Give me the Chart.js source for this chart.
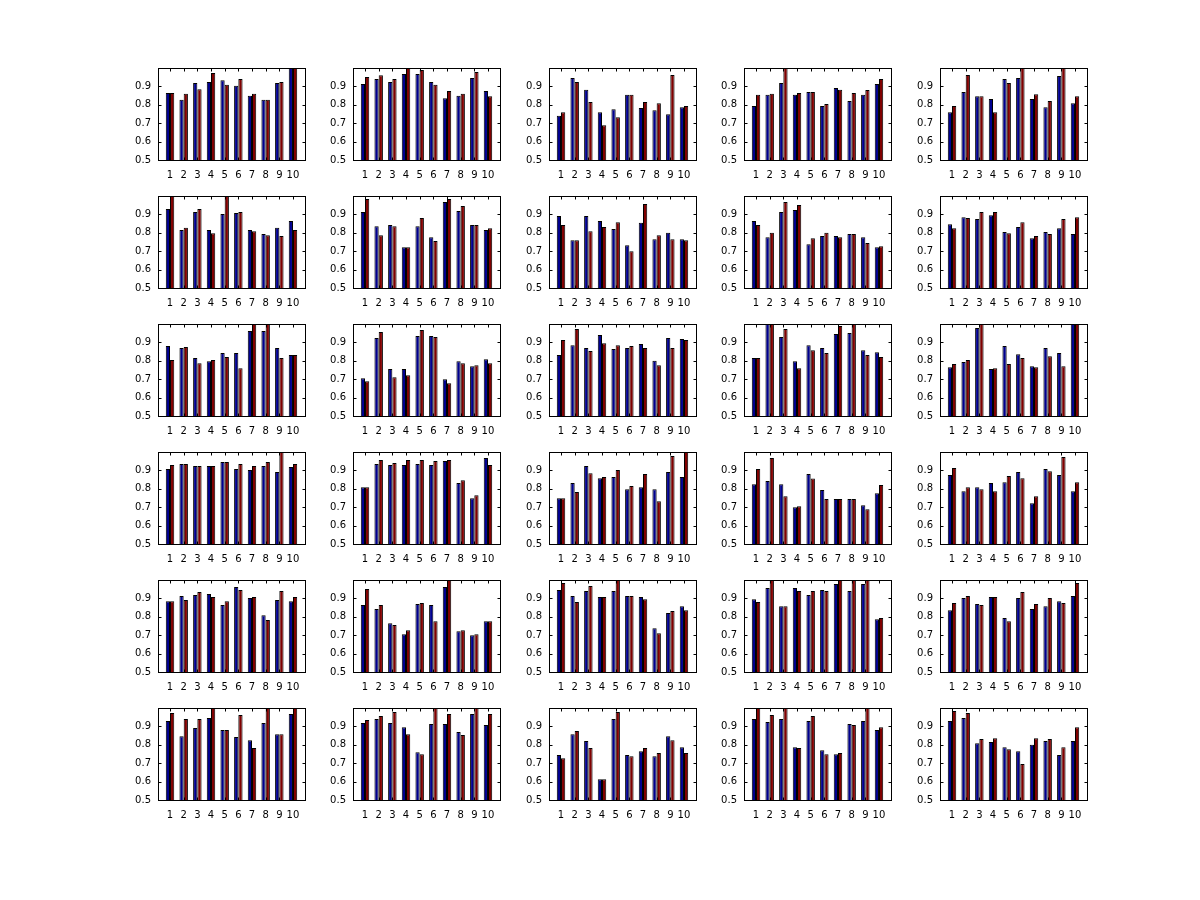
<!DOCTYPE html>
<html><head><meta charset="utf-8">
<script src="https://cdn.jsdelivr.net/npm/chart.js@4/dist/chart.umd.min.js"></script>
<style>
html,body{margin:0;padding:0;background:#fff;}
#wrap{position:relative;width:1200px;height:900px;overflow:hidden;background:#fff;}
canvas{position:absolute;}
</style></head><body><div id="wrap"></div>
<script>
const categories = [1,2,3,4,5,6,7,8,9,10];
const yTicks = [0.5,0.6,0.7,0.8,0.9,1.0];

// blue series, one row per panel (panels read left-to-right, top-to-bottom)
const blue = [
 [0.864,0.827,0.918,0.924,0.933,0.904,0.849,0.827,0.918,1.0],
 [0.913,0.94,0.924,0.967,0.967,0.924,0.836,0.849,0.945,0.875],
 [0.74,0.945,0.882,0.76,0.776,0.855,0.782,0.771,0.749,0.787],
 [0.793,0.855,0.918,0.855,0.869,0.793,0.891,0.82,0.855,0.913],
 [0.76,0.869,0.847,0.831,0.94,0.945,0.831,0.787,0.956,0.809],
 [0.929,0.815,0.913,0.815,0.902,0.907,0.815,0.793,0.827,0.864],
 [0.913,0.836,0.842,0.722,0.836,0.776,0.967,0.918,0.842,0.815],
 [0.891,0.76,0.891,0.864,0.82,0.733,0.855,0.765,0.8,0.765],
 [0.864,0.776,0.913,0.924,0.738,0.782,0.782,0.793,0.776,0.722],
 [0.847,0.885,0.875,0.896,0.804,0.831,0.771,0.804,0.825,0.793],
 [0.88,0.869,0.815,0.798,0.842,0.842,0.962,0.962,0.869,0.831],
 [0.705,0.924,0.755,0.755,0.935,0.935,0.70,0.798,0.771,0.809],
 [0.831,0.885,0.869,0.94,0.864,0.869,0.891,0.8,0.924,0.918],
 [0.815,1.0,0.929,0.798,0.885,0.869,0.945,0.951,0.858,0.847],
 [0.765,0.793,0.978,0.755,0.88,0.836,0.771,0.869,0.842,1.0],
 [0.907,0.935,0.924,0.924,0.945,0.907,0.902,0.924,0.891,0.918],
 [0.809,0.935,0.929,0.929,0.935,0.929,0.951,0.831,0.749,0.967],
 [0.749,0.831,0.924,0.858,0.864,0.798,0.809,0.798,0.891,0.864],
 [0.825,0.842,0.825,0.70,0.88,0.793,0.744,0.744,0.711,0.776],
 [0.875,0.787,0.809,0.831,0.836,0.891,0.722,0.907,0.875,0.787],
 [0.885,0.913,0.918,0.924,0.864,0.962,0.902,0.809,0.891,0.885],
 [0.864,0.842,0.765,0.705,0.869,0.864,0.962,0.722,0.70,0.776],
 [0.945,0.913,0.94,0.907,0.94,0.913,0.907,0.738,0.82,0.858],
 [0.896,0.956,0.858,0.956,0.918,0.945,0.978,0.94,0.978,0.787],
 [0.836,0.902,0.869,0.907,0.793,0.902,0.842,0.858,0.885,0.913],
 [0.929,0.847,0.891,0.945,0.88,0.842,0.825,0.918,0.858,0.967],
 [0.918,0.94,0.918,0.896,0.76,0.913,0.913,0.869,0.967,0.907],
 [0.744,0.858,0.82,0.613,0.94,0.744,0.765,0.738,0.847,0.787],
 [0.94,0.924,0.94,0.787,0.929,0.771,0.749,0.913,0.929,0.88],
 [0.929,0.945,0.809,0.815,0.787,0.765,0.8,0.82,0.744,0.82]
];

// red series, one row per panel
const red = [
 [0.864,0.86,0.885,0.973,0.909,0.94,0.86,0.827,0.924,1.0],
 [0.951,0.96,0.94,1.0,0.989,0.909,0.875,0.86,0.978,0.847],
 [0.76,0.924,0.815,0.689,0.733,0.855,0.815,0.809,0.962,0.793],
 [0.855,0.86,1.0,0.864,0.869,0.804,0.882,0.864,0.88,0.94],
 [0.793,0.962,0.847,0.76,0.918,1.0,0.858,0.82,1.0,0.847],
 [1.0,0.827,0.929,0.798,1.0,0.913,0.809,0.787,0.782,0.815],
 [0.984,0.787,0.836,0.722,0.88,0.755,0.984,0.945,0.842,0.825],
 [0.842,0.76,0.809,0.831,0.858,0.70,0.956,0.787,0.765,0.76],
 [0.842,0.8,0.967,0.951,0.771,0.8,0.776,0.793,0.744,0.727],
 [0.825,0.88,0.913,0.913,0.798,0.858,0.782,0.793,0.875,0.885],
 [0.804,0.875,0.787,0.804,0.82,0.76,1.0,1.0,0.815,0.831],
 [0.689,0.956,0.711,0.722,0.967,0.929,0.678,0.787,0.776,0.787],
 [0.913,0.973,0.853,0.896,0.885,0.88,0.869,0.776,0.869,0.913],
 [0.815,1.0,0.973,0.76,0.858,0.842,0.989,1.0,0.831,0.82],
 [0.782,0.804,1.0,0.76,0.782,0.815,0.765,0.825,0.771,1.0],
 [0.929,0.935,0.924,0.924,0.945,0.935,0.924,0.945,1.0,0.935],
 [0.809,0.956,0.94,0.956,0.956,0.951,0.956,0.847,0.765,0.929],
 [0.749,0.782,0.885,0.864,0.902,0.815,0.88,0.733,0.978,1.0],
 [0.907,0.967,0.76,0.705,0.856,0.744,0.744,0.744,0.689,0.82],
 [0.913,0.809,0.798,0.787,0.869,0.858,0.76,0.896,0.973,0.836],
 [0.885,0.891,0.935,0.907,0.885,0.945,0.907,0.782,0.94,0.907],
 [0.951,0.864,0.755,0.727,0.875,0.776,1.0,0.727,0.705,0.776],
 [0.984,0.88,0.967,0.907,1.0,0.913,0.896,0.711,0.831,0.836],
 [0.88,1.0,0.858,0.94,0.94,0.94,1.0,1.0,1.0,0.793],
 [0.875,0.913,0.864,0.907,0.776,0.935,0.869,0.902,0.875,0.984],
 [0.973,0.94,0.94,1.0,0.88,0.962,0.782,1.0,0.858,1.0],
 [0.935,0.956,0.978,0.858,0.749,1.0,0.967,0.853,1.0,0.967],
 [0.727,0.875,0.782,0.613,0.978,0.738,0.782,0.755,0.825,0.755],
 [1.0,0.962,1.0,0.782,0.956,0.749,0.755,0.907,1.0,0.896],
 [0.984,0.973,0.831,0.836,0.776,0.695,0.836,0.831,0.787,0.896]
];

const colLeft = [158, 353, 549, 744, 940];
const rowTop = [68, 196, 324, 452, 580, 708];
const PW = 147, PH = 92, PADL = 45, PADT = 6, PADR = 6, PADB = 26;
const FONT = {family: 'DejaVu Sans', size: 10};

const framePlugin = {
  id: 'frame',
  afterDraw(chart) {
    const {ctx, chartArea: a, scales: {x, y}} = chart;
    ctx.save();
    ctx.strokeStyle = '#000';
    ctx.lineWidth = 1;
    const L = Math.round(a.left) + 0.5, T = Math.round(a.top) + 0.5;
    const R = Math.round(a.right) + 0.5, B = Math.round(a.bottom) + 0.5;
    ctx.strokeRect(L, T, R - L, B - T);
    const tl = 3;
    ctx.beginPath();
    categories.forEach(c => {
      const px = Math.round(x.getPixelForValue(c)) + 0.5;
      ctx.moveTo(px, B); ctx.lineTo(px, B - tl);
      ctx.moveTo(px, T); ctx.lineTo(px, T + tl);
    });
    yTicks.forEach(v => {
      const py = Math.round(y.getPixelForValue(v)) + 0.5;
      ctx.moveTo(L, py); ctx.lineTo(L + tl, py);
      ctx.moveTo(R, py); ctx.lineTo(R - tl, py);
    });
    ctx.stroke();
    ctx.restore();
  }
};

const wrap = document.getElementById('wrap');
for (let i = 0; i < 30; i++) {
  const r = Math.floor(i / 5), c = i % 5;
  const cv = document.createElement('canvas');
  const W = PADL + PW + PADR, H = PADT + PH + PADB;
  cv.width = W; cv.height = H;
  cv.style.width = W + 'px'; cv.style.height = H + 'px';
  cv.style.left = (colLeft[c] - PADL) + 'px';
  cv.style.top = (rowTop[r] - PADT) + 'px';
  wrap.appendChild(cv);
  new Chart(cv, {
    type: 'bar',
    data: {
      datasets: [
        {data: categories.map((k, j) => ({x: k, y: blue[i][j]})), backgroundColor: '#00008f', borderColor: '#000', borderWidth: 1},
        {data: categories.map((k, j) => ({x: k, y: red[i][j]})), backgroundColor: '#800000', borderColor: '#000', borderWidth: 1}
      ]
    },
    options: {
      responsive: false, animation: false, devicePixelRatio: 1,
      layout: {padding: {left: 0, top: PADT, right: PADR, bottom: 0}},
      plugins: {legend: {display: false}, tooltip: {enabled: false}},
      datasets: {bar: {categoryPercentage: 0.62, barPercentage: 1.0}},
      scales: {
        x: {
          type: 'linear', min: 0.12, max: 10.88, offset: false,
          grid: {display: false, drawTicks: false}, border: {display: false},
          afterBuildTicks: s => { s.ticks = categories.map(v => ({value: v})); },
          afterFit: s => { s.height = PADB; s.paddingLeft = 0; s.paddingRight = 0; },
          ticks: {autoSkip: false, maxRotation: 0, minRotation: 0, padding: 9, color: '#000', font: FONT,
                  callback: v => String(v)}
        },
        y: {
          min: 0.5, max: 1.0,
          grid: {display: false, drawTicks: false}, border: {display: false},
          afterBuildTicks: s => { s.ticks = yTicks.map(v => ({value: v})); },
          afterFit: s => { s.width = PADL; s.paddingTop = 0; s.paddingBottom = 0; },
          ticks: {padding: 7, color: '#000', font: FONT,
                  callback: v => (v >= 0.999 ? '' : Number(v).toFixed(1))}
        }
      }
    },
    plugins: [framePlugin]
  });
}
</script>
</body></html>
